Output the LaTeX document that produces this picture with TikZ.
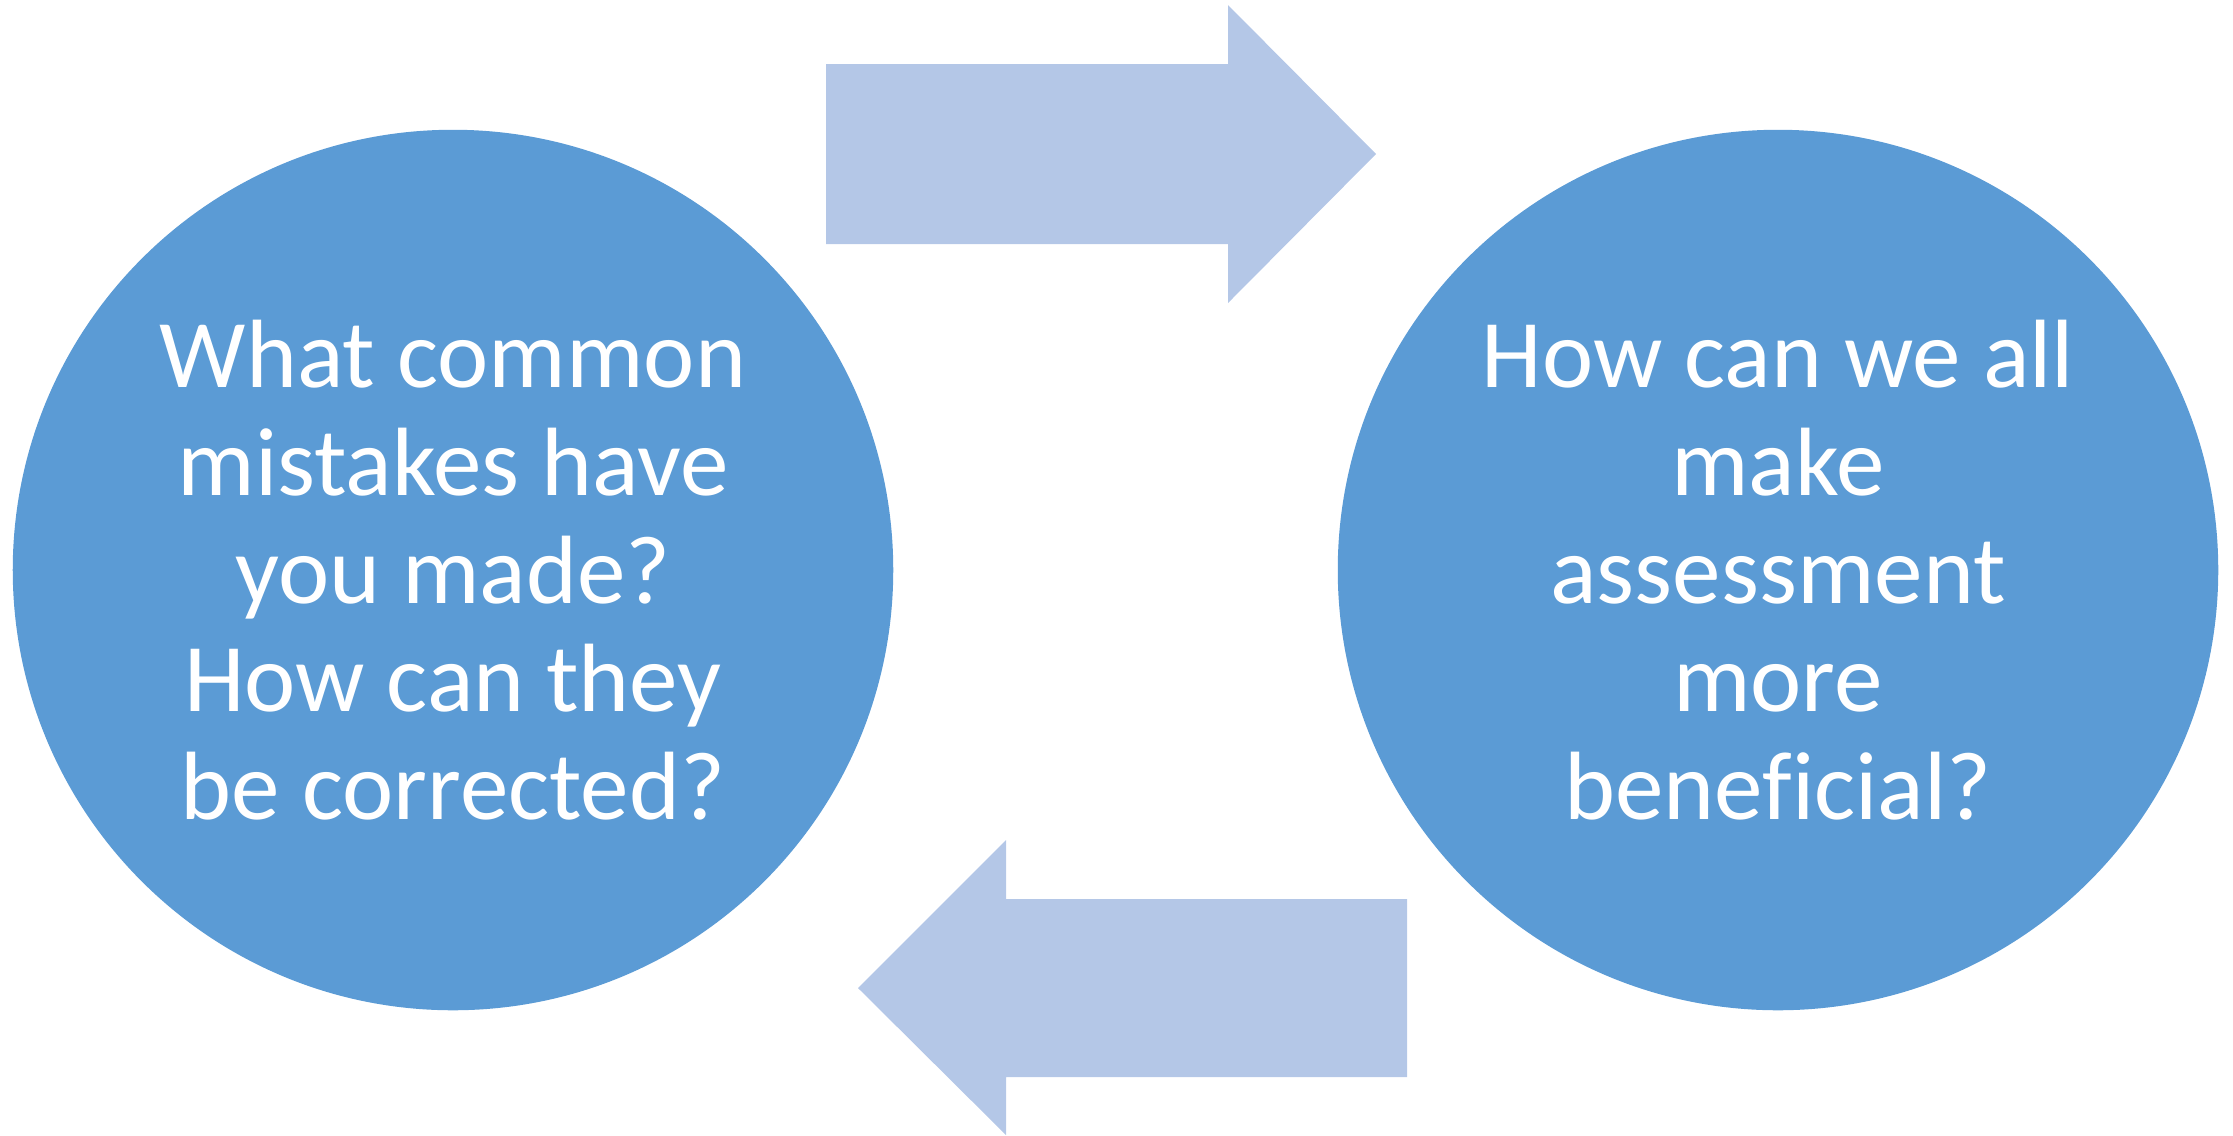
\documentclass[tikz,border=0pt]{standalone}
\usepackage{fontspec}
\setmainfont{Carlito}[Ligatures=NoCommon]
\usepackage{tikz}
\usetikzlibrary{positioning}
\usepackage{xcolor}
\definecolor{bubbleblue}{HTML}{5B9BD5}
\definecolor{flowblue}{HTML}{B4C7E7}

\begin{document}
\begin{tikzpicture}[
    x=0.01cm, y=-0.01cm,
    bubble/.style={circle, fill=bubbleblue, minimum size=8.8cm, inner sep=0pt, text=white, align=center, font=\fontsize{27.6pt}{30.7pt}\selectfont},
    flow/.style={fill=flowblue}
]
    \useasboundingbox (0,0) rectangle (2233,1135);

    \node[bubble] (mistakes) at (453,570) {What common\\mistakes have\\you made?\\How can they\\be corrected?};
    \node[bubble] (assess) at (1778,570) {How can we all\\make\\assessment\\more\\beneficial?};

    % arrows between the two questions
    \coordinate (toptip) at (1376,154);
    \coordinate (bottip) at (858,988);
    \fill[flow] (826,64) -- (1228,64) -- (1228,5) -- (toptip) -- (1228,303) -- (1228,244) -- (826,244) -- cycle;
    \fill[flow] (1407,899) -- (1006,899) -- (1006,840) -- (bottip) -- (1006,1135) -- (1006,1077) -- (1407,1077) -- cycle;
\end{tikzpicture}
\end{document}
